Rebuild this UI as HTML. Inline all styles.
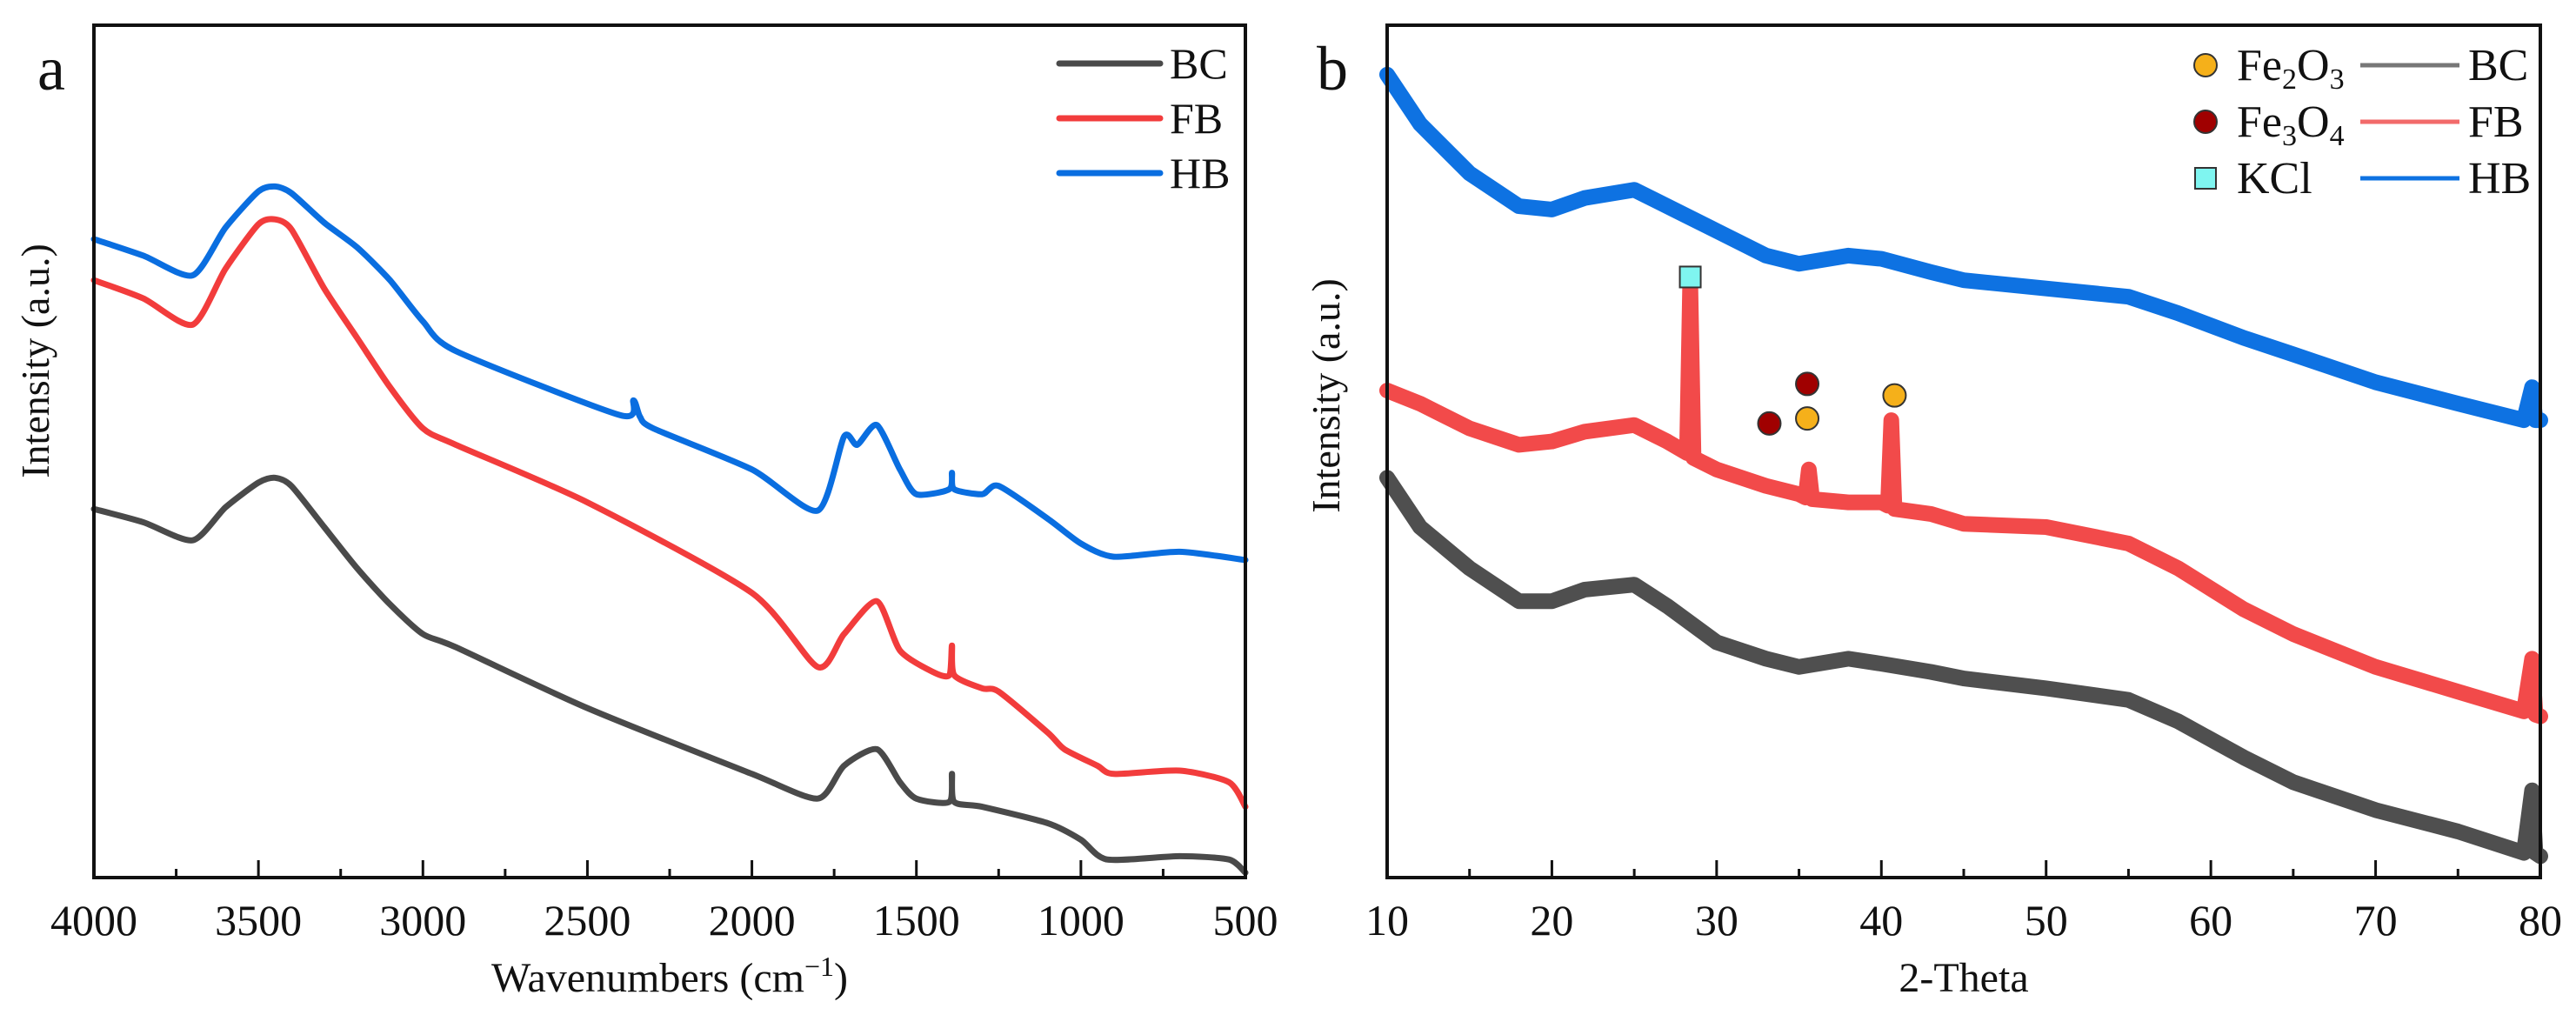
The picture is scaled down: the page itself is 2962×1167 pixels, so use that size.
<!DOCTYPE html>
<html><head><meta charset="utf-8"><style>
html,body{margin:0;padding:0;background:#fff;}
svg{display:block;font-family:"Liberation Serif",serif;}
</style></head><body>
<svg id="fig" width="2962" height="1167" viewBox="0 0 2962 1167" xmlns="http://www.w3.org/2000/svg"></svg>
<script>
// ---- Panel a (FTIR) data ----
const ftirBC = [[4000,224],[3850,216],[3700,205],[3600,225],[3500,240],[3450,243],[3400,238],[3300,213],[3200,188],[3100,166],[3000,148],[2900,140],[2500,103],[2000,63],[1800,48],[1720,68],[1620,78],[1550,58],[1500,48],[1400,46],[1392,63],[1385,46],[1300,43],[1100,33],[1000,23],[920,11],[700,13],[550,11],[500,3]];
const ftirFB = [[4000,363],[3850,352],[3700,336],[3600,370],[3500,397],[3450,400],[3400,394],[3300,358],[3200,328],[3100,298],[3000,273],[2900,263],[2500,228],[2000,173],[1800,128],[1720,148],[1620,168],[1550,138],[1450,125],[1400,123],[1392,141],[1385,123],[1300,115],[1250,113],[1100,88],[1050,78],[950,68],[900,63],[700,65],[550,58],[500,43]];
const ftirHB = [[4000,388],[3850,378],[3700,366],[3600,395],[3500,417],[3450,420],[3400,416],[3300,398],[3200,383],[3100,363],[3000,338],[2900,320],[2400,281],[2360,290],[2340,280],[2300,273],[2000,248],[1800,223],[1720,268],[1680,263],[1620,275],[1550,248],[1500,233],[1400,236],[1392,246],[1385,236],[1300,233],[1250,238],[1100,218],[1000,203],[900,195],[700,198],[500,193]];
const ftirTicks = [4000,3500,3000,2500,2000,1500,1000,500];
// ---- Panel b (XRD) data ----
const xrdHB = [[10,488],[12,458],[15,428],[18,408],[20,406],[22,413],[25,418],[27,408],[30,393],[33,378],[35,373],[38,378],[40,376],[43,368],[45,363],[50,358],[55,353],[58,343],[62,328],[65,318],[70,301],[75,288],[79,278],[79.5,298],[79.7,278],[80,278]];
const xrdFB = [[10,296],[12,288],[15,273],[18,263],[20,265],[22,271],[25,275],[27,265],[28.2,258],[28.4,363],[28.6,255],[30,248],[33,238],[35,233],[35.4,231],[35.6,248],[35.8,230],[38,228],[40,228],[40.4,226],[40.6,278],[40.8,224],[43,221],[45,215],[50,213],[55,203],[58,188],[62,163],[65,148],[70,128],[75,113],[79,101],[79.5,133],[79.7,99],[80,98]];
const xrdBC = [[10,243],[12,213],[15,188],[18,168],[20,168],[22,175],[25,178],[27,165],[30,143],[33,133],[35,128],[38,133],[40,130],[43,125],[45,121],[50,115],[55,108],[58,95],[62,73],[65,58],[70,41],[75,28],[79,15],[79.5,53],[79.7,15],[80,13]];
const xrdTicks = [10,20,30,40,50,60,70,80];
const kclPeaks = [[28.4,365]];
const fe3o4Peaks = [[33.2,276],[35.5,300]];
const fe2o3Peaks = [[35.5,279],[40.8,293]];

const NS='http://www.w3.org/2000/svg';
const svg=document.getElementById('fig');
function mk(tag,attrs,parent){const e=document.createElementNS(NS,tag);for(const k in attrs)e.setAttribute(k,attrs[k]);(parent||svg).appendChild(e);return e;}
const TOP=29,BOT=1009,YMAX=518;
function yS(v){return TOP+(YMAX-v)/YMAX*(BOT-TOP);}
const xA=w=>108+(4000-w)/3500*(1432-108);
const xB=t=>1595+(t-10)/70*(2921-1595);

function pathSmooth(pts,k){
  let d='M'+pts[0][0].toFixed(1)+' '+pts[0][1].toFixed(1);
  for(let i=0;i<pts.length-1;i++){
    const p0=pts[Math.max(0,i-1)],p1=pts[i],p2=pts[i+1],p3=pts[Math.min(pts.length-1,i+2)];
    const c1x=p1[0]+(p2[0]-p0[0])*k,c1y=p1[1]+(p2[1]-p0[1])*k;
    const c2x=p2[0]-(p3[0]-p1[0])*k,c2y=p2[1]-(p3[1]-p1[1])*k;
    d+=' C'+c1x.toFixed(1)+' '+c1y.toFixed(1)+' '+c2x.toFixed(1)+' '+c2y.toFixed(1)+' '+p2[0].toFixed(1)+' '+p2[1].toFixed(1);
  }
  return d;
}
function series(data,xf,color,w,name,smooth){
  const pts=data.map(p=>[xf(p[0]),yS(p[1])]);
  const d=smooth?pathSmooth(pts,0.12):pts.map((p,i)=>(i?'L':'M')+p[0].toFixed(1)+' '+p[1].toFixed(1)).join(' ');
  const p=mk('path',{d:d,fill:'none',stroke:color,'stroke-width':w,'stroke-linejoin':'round','stroke-linecap':'round'});
  
  
}
function frame(x0,x1,name){
  const r=mk('rect',{x:x0,y:TOP,width:x1-x0,height:BOT-TOP,fill:'none',stroke:'#111','stroke-width':4});
  
  
}
function text(x,y,s,size,anchor,name,extra){
  const t=mk('text',Object.assign({x:x,y:y,'font-size':size,'text-anchor':anchor||'middle',fill:'#111'},extra||{}));
  t.textContent=s;
  
  
  return t;
}

// Panel a
series(ftirBC,xA,'#4a4a4a',7,'ftir-bc-line',true);
series(ftirFB,xA,'#f23c3c',7,'ftir-fb-line',true);
series(ftirHB,xA,'#0a6ee0',7,'ftir-hb-line',true);
frame(108,1432,'ftir-plot-frame');
ftirTicks.forEach(v=>{
  const x=xA(v);
  const t=mk('line',{x1:x,x2:x,y1:BOT,y2:BOT-20,stroke:'#111','stroke-width':3});
  
  
  text(x,1075,String(v),50,'middle','ftir-x-tick-label');
  if(v>500){const xm=xA(v-250);
    const m=mk('line',{x1:xm,x2:xm,y1:BOT,y2:BOT-10,stroke:'#111','stroke-width':3});
    
    }
});
const xt=text(770,1140,'Wavenumbers (cm',48,'middle','ftir-x-axis-title');
const sup=mk('tspan',{'baseline-shift':'super','font-size':32},xt);sup.textContent='−1';
const cl=mk('tspan',{},xt);cl.textContent=')';
text(0,0,'Intensity (a.u.)',46,'middle','ftir-y-axis-title',{transform:'translate(56,415) rotate(-90)'});
text(59,103,'a',72,'middle','panel-a-label');
[['BC','#4a4a4a',73],['FB','#f23c3c',136],['HB','#0a6ee0',199]].forEach(([n,c,y])=>{
  const l=mk('line',{x1:1218,x2:1334,y1:y,y2:y,stroke:c,'stroke-width':7,'stroke-linecap':'round'});
  
  
  text(1345,y+17,n,50,'start','ftir-legend-label-'+n.toLowerCase());
});

// Panel b
series(xrdBC,xB,'#4f4f4f',18,'xrd-bc-line',false);
series(xrdFB,xB,'#f24a4a',18,'xrd-fb-line',false);
series(xrdHB,xB,'#0e72e2',18,'xrd-hb-line',false);
frame(1595,2921,'xrd-plot-frame');
xrdTicks.forEach(v=>{
  const x=xB(v);
  const t=mk('line',{x1:x,x2:x,y1:BOT,y2:BOT-20,stroke:'#111','stroke-width':3});
  
  
  text(x,1075,String(v),50,'middle','xrd-x-tick-label');
  if(v<80){const xm=xB(v+5);
    const m=mk('line',{x1:xm,x2:xm,y1:BOT,y2:BOT-10,stroke:'#111','stroke-width':3});
    
    }
});
text(2258,1140,'2-Theta',48,'middle','xrd-x-axis-title');
text(0,0,'Intensity (a.u.)',46,'middle','xrd-y-axis-title',{transform:'translate(1540,455) rotate(-90)'});
text(1532,103,'b',72,'middle','panel-b-label');
function circ(x,y,fill,name){const c=mk('circle',{cx:x,cy:y,r:13,fill:fill,stroke:'#333','stroke-width':2});}
function sq(x,y,name){const r=mk('rect',{x:x-12,y:y-12,width:24,height:24,fill:'#7ff5f0',stroke:'#333','stroke-width':2});}
kclPeaks.forEach(p=>sq(xB(p[0]),yS(p[1]),'kcl-peak-marker'));
fe3o4Peaks.forEach(p=>circ(xB(p[0]),yS(p[1]),'#a00000','fe3o4-peak-marker'));
fe2o3Peaks.forEach(p=>circ(xB(p[0]),yS(p[1]),'#f5b01a','fe2o3-peak-marker'));
// legend b
circ(2536,75,'#f5b01a','legend-fe2o3-marker');
circ(2536,140,'#a00000','legend-fe3o4-marker');
sq(2536,205,'legend-kcl-marker');
(function(){const t=text(2572,92,'',52,'start','legend-fe2o3-label');
  [['Fe',0],['2',1],['O',-1],['3',1]].forEach(([s,k])=>{const ts=mk('tspan',k===1?{'font-size':34,dy:10}:(k===-1?{dy:-10}:{}),t);ts.textContent=s;});})();
(function(){const t=text(2572,157,'',52,'start','legend-fe3o4-label');
  [['Fe',0],['3',1],['O',-1],['4',1]].forEach(([s,k])=>{const ts=mk('tspan',k===1?{'font-size':34,dy:10}:(k===-1?{dy:-10}:{}),t);ts.textContent=s;});})();
text(2572,222,'KCl',52,'start','legend-kcl-label');
[['BC','#777',75],['FB','#f26a6a',140],['HB','#0e72e2',205]].forEach(([n,c,y])=>{
  const l=mk('line',{x1:2714,x2:2828,y1:y,y2:y,stroke:c,'stroke-width':5});
  
  
  text(2838,y+17,n,52,'start','xrd-legend-label-'+n.toLowerCase());
});
</script>
</body></html>
